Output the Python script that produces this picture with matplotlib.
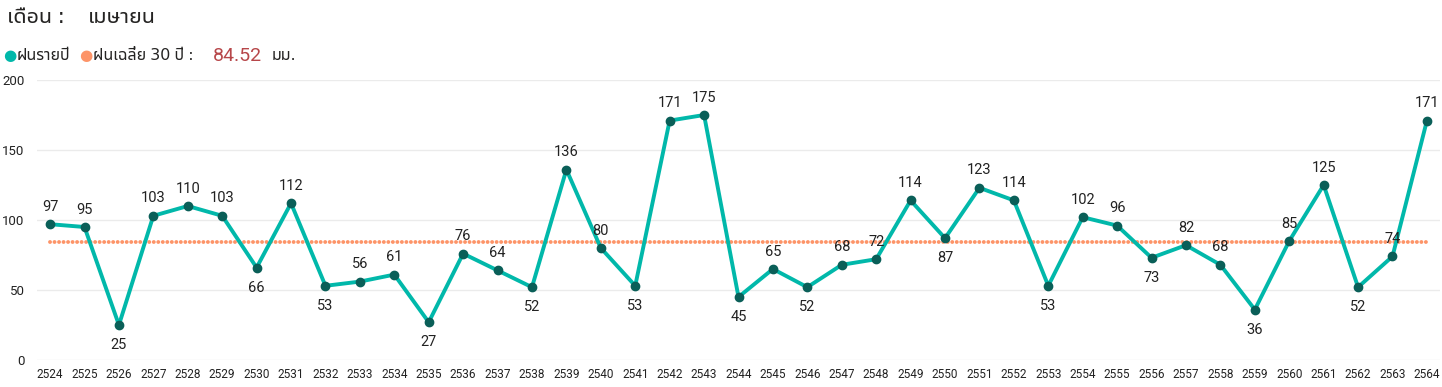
import matplotlib
matplotlib.use("Agg")
import matplotlib.pyplot as plt

# rainfall for April, Thai Buddhist-era years
years = list(range(2524, 2565))
rain = [97, 95, 25, 103, 110, 103, 66, 112, 53, 56, 61, 27, 76, 64, 52, 136, 80, 53,
        171, 175, 45, 65, 52, 68, 72, 114, 87, 123, 114, 53, 102, 96, 73, 82, 68, 36,
        85, 125, 52, 74, 171]
# years whose value label sits below the point
below = [2526, 2530, 2532, 2535, 2538, 2541, 2544, 2546, 2550, 2553, 2556, 2559, 2562]
avg_30 = 84.52
yticks = [0, 50, 100, 150, 200]

thai = ['Noto Sans Thai UI', 'DejaVu Sans']
num = ['Roboto', 'DejaVu Sans']

teal = '#01B8AA'
dark = '#0A5F58'
orange = '#FD9468'

fig = plt.figure(figsize=(14.42, 3.87), dpi=100)
ax = fig.add_axes([37 / 1442, 1 - 360 / 387, 1 - 39 / 1442, 280 / 387])

ax.plot([years[0], years[-1]], [avg_30, avg_30], color=orange, lw=2.8,
        dashes=(0.01, 1.15), dash_capstyle='round', zorder=2)
ax.plot(years, rain, color=teal, lw=2.8, zorder=3)
ax.plot(years, rain, 'o', color=dark, ms=6, zorder=4)

for yr, v in zip(years, rain):
    off = -14.5 if yr in below else 12.5
    ax.annotate(str(v), (yr, v), xytext=(0, off), textcoords='offset points',
                ha='center', va='center', fontsize=10.5, family=num, color='#222222')

ax.set_xlim(2523.62, 2564.38)
ax.set_ylim(0, 200)
ax.set_yticks(yticks)
ax.set_xticks(years)
ax.set_xticklabels([str(y) for y in years], fontsize=8.5, family=num, color='#222222')
ax.set_yticklabels([str(t) for t in yticks], fontsize=9.5, family=num, color='#222222')
ax.tick_params(length=0)
ax.tick_params(axis='y', pad=9)
ax.tick_params(axis='x', pad=6)
ax.grid(axis='y', color='#ebebeb', lw=1)
ax.set_axisbelow(True)
for s in ax.spines.values():
    s.set_visible(False)

# header texts
fig.text(7 / 1442, 1 - 17 / 387, 'เดือน :', fontsize=15.5, family=thai, va='center', color='#252423')
fig.text(88 / 1442, 1 - 17 / 387, 'เมษายน', fontsize=15.5, family=thai, va='center', color='#252423')

fig.text(10 / 1442, 1 - 56 / 387, '●', fontsize=11, color=teal, va='center', ha='center', family=num)
fig.text(17 / 1442, 1 - 56 / 387, 'ฝนรายปี', fontsize=11.5, family=thai, va='center', color='#252423')
fig.text(86 / 1442, 1 - 56 / 387, '●', fontsize=11, color=orange, va='center', ha='center', family=num)
fig.text(93 / 1442, 1 - 56 / 387, 'ฝนเฉลี่ย 30 ปี :', fontsize=11.5, family=thai, va='center', color='#252423')
fig.text(213 / 1442, 1 - 56 / 387, f'{avg_30:.2f}', fontsize=14, family=num, va='center', color='#B7474A')
fig.text(272 / 1442, 1 - 56 / 387, 'มม.', fontsize=11.5, family=thai, va='center', color='#252423')

fig.savefig('out.png', dpi=100)
